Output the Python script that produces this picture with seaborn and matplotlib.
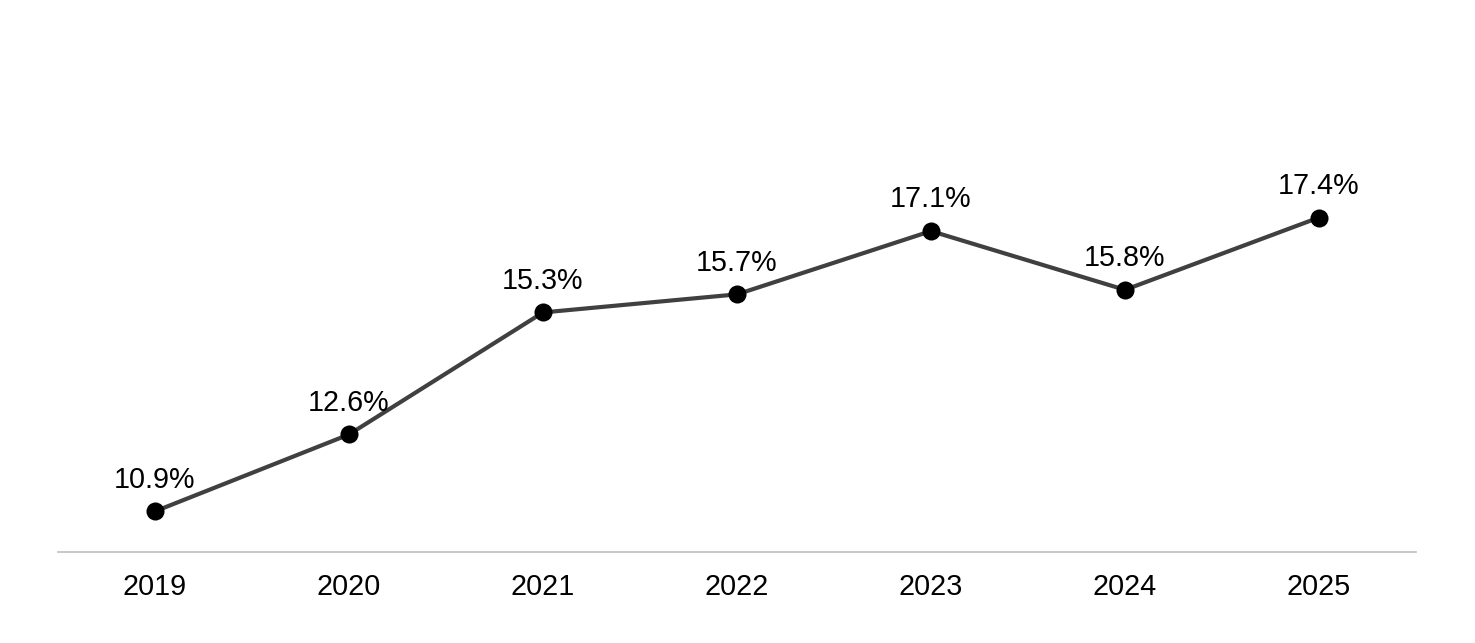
import matplotlib
matplotlib.use("Agg")
import matplotlib.pyplot as plt
import seaborn as sns
import pandas as pd

years = ["2019", "2020", "2021", "2022", "2023", "2024", "2025"]
values = [10.9, 12.6, 15.3, 15.7, 17.1, 15.8, 17.4]
labels = ["10.9%", "12.6%", "15.3%", "15.7%", "17.1%", "15.8%", "17.4%"]

sns.set_theme(style="white")
plt.rcParams['font.family'] = ['Liberation Sans', 'DejaVu Sans']

df = pd.DataFrame({"year": years, "value": values})

fig = plt.figure(figsize=(14.75, 6.43), dpi=100)
ax = fig.add_axes([58/1475, 1 - 552/643, (1416 - 58)/1475, (552 - 100)/643])

sns.lineplot(data=df, x="year", y="value", ax=ax, color="#404040", linewidth=3,
             sort=False, zorder=2)
ax.scatter(range(len(years)), values, s=13**2, color="black", zorder=3, linewidths=0)

for i, (v, lab) in enumerate(zip(values, labels)):
    ax.annotate(lab, (i, v), xytext=(0, 17), textcoords="offset points",
                ha="center", va="baseline", fontsize=20.7, color="black")

ax.set_xlim(-0.5, len(years) - 0.5)
ax.set_ylim(10, 20)
ax.set_xlabel("")
ax.set_ylabel("")
ax.set_yticks([])
ax.tick_params(axis="x", length=0, labelsize=20.7, pad=15, colors="black")
for s in ["top", "right", "left"]:
    ax.spines[s].set_visible(False)
ax.spines["bottom"].set_color("#bfbfbf")
ax.spines["bottom"].set_linewidth(1.2)

fig.savefig("out.png", dpi=100, facecolor="white")
